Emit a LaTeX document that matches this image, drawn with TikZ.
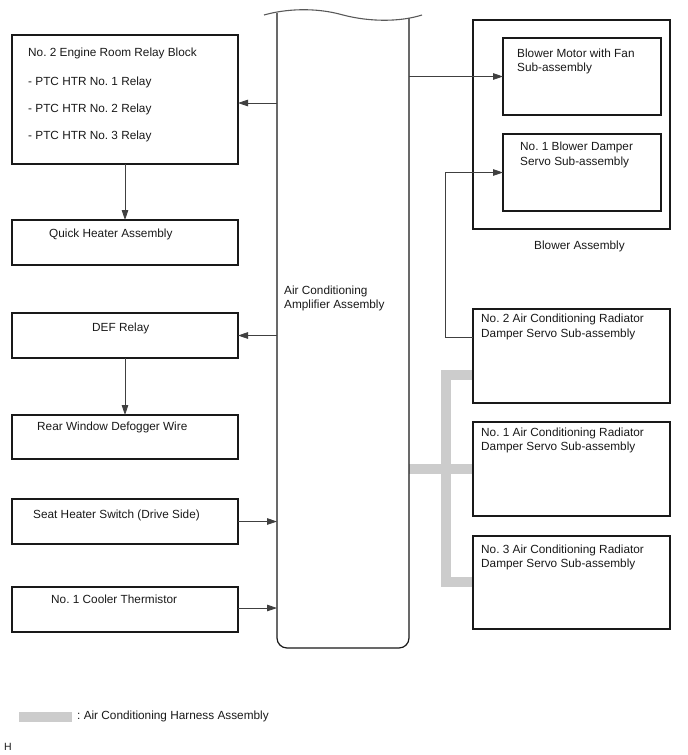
\documentclass[tikz,border=0pt]{standalone}
\usepackage{fontspec}
\setmainfont{Liberation Sans}
\usetikzlibrary{arrows.meta,calc,backgrounds}
\frenchspacing
\begin{document}
\begin{tikzpicture}[x=1pt,y=-1pt,
  box/.style={draw=black!90, line width=1.2pt, rectangle, inner sep=0pt, outer sep=0pt},
  lbl/.style={anchor=base west, inner sep=0pt, font=\fontsize{11.8}{14}\selectfont, text=black!90},
  conn/.style={draw=black!75, line width=0.8pt, -{Triangle[length=10pt,width=6.5pt]}},
  harness/.style={draw=black!20, line width=10pt, line join=miter},
  ampline/.style={draw=black!90, line width=1.2pt}]
\useasboundingbox (0,0) rectangle (688,755);

% central amplifier
\node[inner sep=0pt, outer sep=0pt, minimum width=132pt, minimum height=635pt] (amp) at (343,330.5) {};
\draw[ampline, rounded corners=10pt] (277,13) -- (277,648) -- (409,648) -- (409,18);
\draw[ampline, line width=1.1pt, draw=black!65] (264,15) .. controls (285,9) and (315,7) .. (343,15) .. controls (370,22) and (400,22) .. (422,15);
\node[lbl] (ampt1) at (284,294) {Air Conditioning};
\node[lbl] (ampt2) at (284,308) {Amplifier Assembly};

% left boxes
\node[box, minimum width=226pt, minimum height=129pt] (relay) at (125,99.5) {};
\node[lbl] (relt0) at (28,56) {No. 2 Engine Room Relay Block};
\node[lbl] (relt1) at (28,85) {- PTC HTR No. 1 Relay};
\node[lbl] (relt2) at (28,112) {- PTC HTR No. 2 Relay};
\node[lbl] (relt3) at (28,139) {- PTC HTR No. 3 Relay};

\node[box, minimum width=226pt, minimum height=45pt] (quick) at (125,242.5) {};
\node[lbl] (quickt) at (49,237) {Quick Heater Assembly};

\node[box, minimum width=226pt, minimum height=45pt] (def) at (125,335.5) {};
\node[lbl] (deft) at (92,331) {DEF Relay};

\node[box, minimum width=226pt, minimum height=44pt] (rear) at (125,437) {};
\node[lbl] (reart) at (37,430) {Rear Window Defogger Wire};

\node[box, minimum width=226pt, minimum height=45pt] (seat) at (125,521.5) {};
\node[lbl] (seatt) at (33,518) {Seat Heater Switch (Drive Side)};

\node[box, minimum width=226pt, minimum height=45pt] (cooler) at (125,609.5) {};
\node[lbl] (coolert) at (51,603) {No. 1 Cooler Thermistor};

% right boxes
\node[box, minimum width=197pt, minimum height=209pt] (blower) at (571.5,124.5) {};
\node[lbl] (blowert) at (534,249) {Blower Assembly};
\node[box, minimum width=158pt, minimum height=77pt] (motor) at (582,76.5) {};
\node[lbl] (motort1) at (517,57) {Blower Motor with Fan};
\node[lbl] (motort2) at (517,71) {Sub-assembly};
\node[box, minimum width=158pt, minimum height=77pt] (damp) at (582,172.5) {};
\node[lbl] (dampt1) at (520,150) {No. 1 Blower Damper};
\node[lbl] (dampt2) at (520,165) {Servo Sub-assembly};

\node[box, minimum width=197pt, minimum height=94pt] (rad2) at (571.5,356) {};
\node[lbl] (rad2t1) at (481,322) {No. 2 Air Conditioning Radiator};
\node[lbl] (rad2t2) at (481,337) {Damper Servo Sub-assembly};
\node[box, minimum width=197pt, minimum height=94pt] (rad1) at (571.5,469) {};
\node[lbl] (rad1t1) at (481,436) {No. 1 Air Conditioning Radiator};
\node[lbl] (rad1t2) at (481,450) {Damper Servo Sub-assembly};
\node[box, minimum width=197pt, minimum height=93pt] (rad3) at (571.5,582.5) {};
\node[lbl] (rad3t1) at (481,553) {No. 3 Air Conditioning Radiator};
\node[lbl] (rad3t2) at (481,567) {Damper Servo Sub-assembly};

% harness
\begin{scope}[on background layer]
\draw[harness] (rad2.west |- 0,375) -- (446,375) -- (446,582) -- (rad3.west |- 0,582);
\draw[harness] (amp.east |- rad1.west) -- (rad1.west);
\end{scope}

% connectors
\draw[conn] (amp.west |- 0,103) -- (relay.east |- 0,103);
\draw[conn] (relay) -- (quick);
\draw[conn] (amp.west |- def.east) -- (def.east);
\draw[conn] (def) -- (rear);
\draw[conn] (seat.east) -- (amp.west |- seat.east);
\draw[conn] (cooler.east |- 0,608) -- (amp.west |- 0,608);
\draw[conn] (amp.east |- motor.west) -- (motor.west);
\draw[conn] (rad2.west |- 0,337) -- (445.5,337) |- (damp.west);

% legend
\node[fill=black!20, inner sep=0pt, minimum width=53pt, minimum height=10pt] (leg) at (45.5,717) {};
\node[lbl] (legt) at (77,719) {: Air Conditioning Harness Assembly};
\node[lbl, font=\fontsize{10.5}{12}\selectfont] (hmark) at (4,750) {H};
\end{tikzpicture}
\end{document}
